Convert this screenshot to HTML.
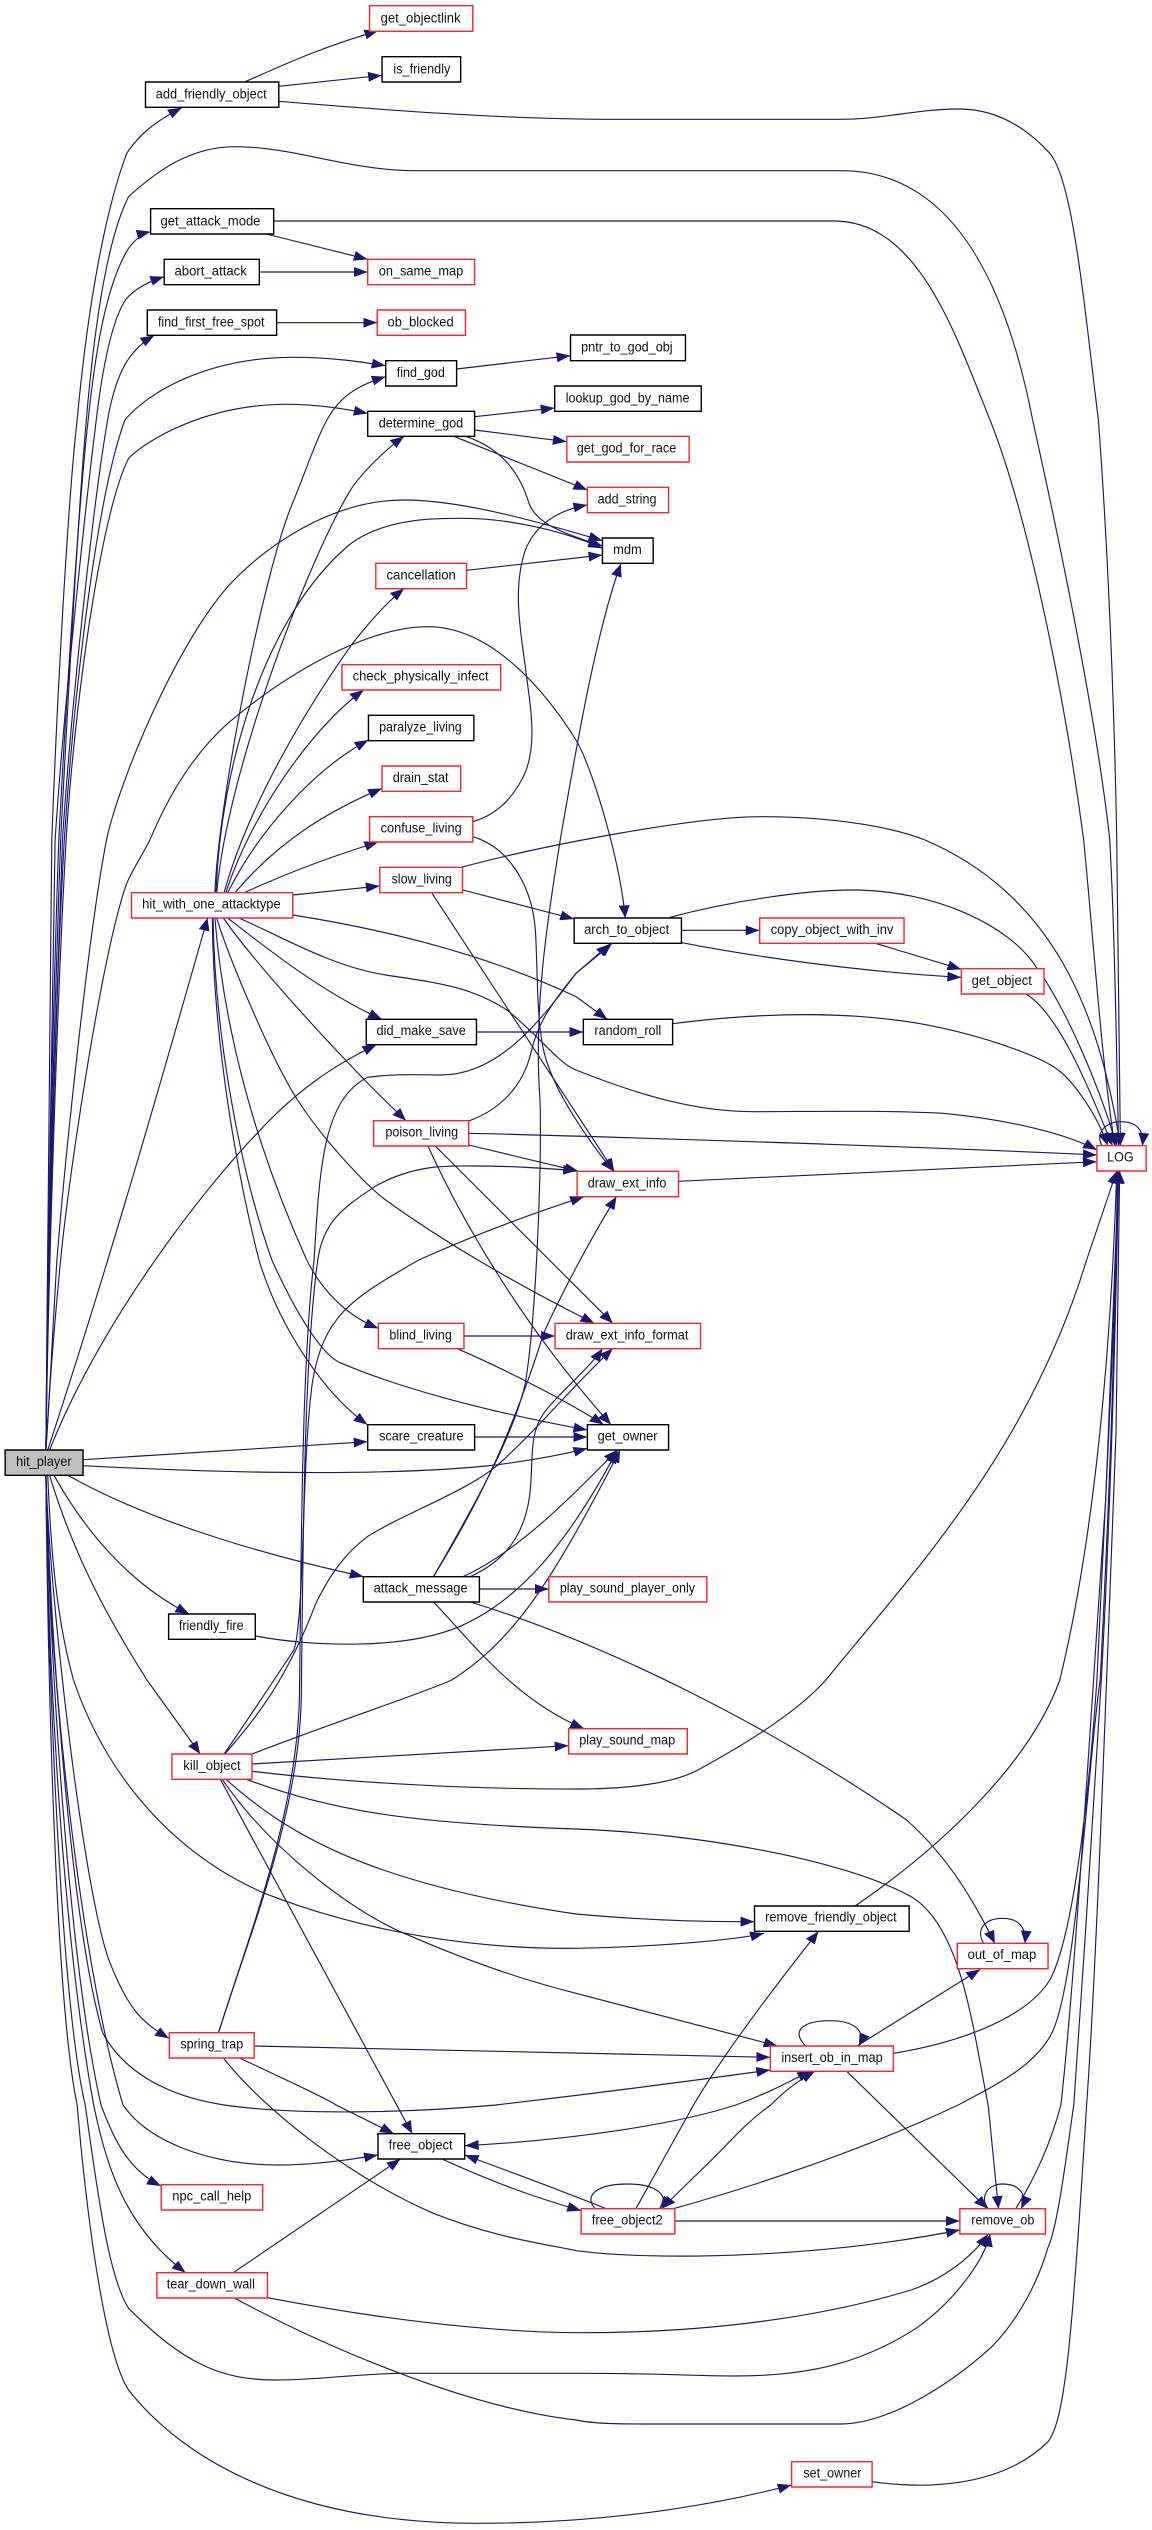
<!DOCTYPE html>
<html><head><meta charset="utf-8"><style>
html,body{margin:0;padding:0;background:#fff}
svg{display:block}
.e path{fill:none;stroke:#191970;stroke-width:1.15;vector-effect:non-scaling-stroke;marker-end:url(#a)}
.e path.both{marker-start:url(#b)}
.n{fill:#fff;stroke:#000;stroke-width:1.4;vector-effect:non-scaling-stroke}
.r{fill:#fff;stroke:#f22;stroke-width:1.4;vector-effect:non-scaling-stroke}
.g{fill:#bfbfbf;stroke:#000;stroke-width:1.4;vector-effect:non-scaling-stroke}
text{font-family:"Liberation Sans",sans-serif;font-size:41px;fill:#111}
</style></head><body>
<svg xmlns="http://www.w3.org/2000/svg" width="1152" height="2530" viewBox="0 0 3136 7590" preserveAspectRatio="none">
<defs><marker id="a" markerUnits="userSpaceOnUse" markerWidth="42" markerHeight="34" refX="38" refY="16" orient="auto"><path d="M0 1L38 16L0 31z" fill="#191970"/></marker>
<marker id="b" markerUnits="userSpaceOnUse" markerWidth="42" markerHeight="34" refX="38" refY="16" orient="auto-start-reverse"><path d="M0 1L38 16L0 31z" fill="#191970"/></marker></defs>
<g class="e">
<path d="M125,4350C130,3700 135,3000 141,2520C155,2100 185,1500 210,1260C240,900 290,620 345,460C380,400 430,360 495,323"/>
<path d="M125,4350C130,3700 150,3000 165,2520C185,2100 215,1500 235,1260C255,1000 290,720 350,590C430,510 520,440 640,440C800,440 950,512 1130,512L2290,512C2570,512 2730,800 2811,1260C2900,1700 2990,2200 3021,2520C3035,2800 3040,3200 3045,3437"/>
<path d="M759,304C1100,335 1400,358 1668,358L2288,358C2400,358 2500,327 2610,327C2720,327 2800,390 2858,460C2920,540 2950,900 2990,1260C3020,1700 3035,2200 3040,2520L3050,3437"/>
<path d="M745,663L2270,663C2500,663 2600,1000 2695,1260C2800,1550 2900,2100 2950,2520C2975,2800 3000,3200 3035,3437"/>
<path d="M725,702L1001,778"/><path d="M706,816L1001,816"/><path d="M753,968L1027,968"/>
<path d="M666,246C780,190 880,140 1030,92"/><path d="M759,259L1040,226"/>
<path d="M125,4350C130,3700 145,3000 160,2520C180,2100 215,1500 240,1260C260,1050 290,850 350,745C370,715 390,700 410,695"/>
<path d="M125,4350C130,3700 140,3000 150,2520C175,2100 235,1500 262,1260C285,1050 315,940 345,895C365,870 395,848 447,830"/>
<path d="M125,4350C130,3700 155,3000 170,2520C195,2100 255,1500 293,1260C305,1180 325,1120 345,1085C365,1050 390,1025 420,1006"/>
<path d="M125,4350C130,3900 150,3000 175,2520C200,2100 260,1500 340,1260C400,1180 560,1072 800,1072C900,1072 980,1085 1050,1097"/>
<path d="M125,4350C130,3900 155,3000 180,2520C200,2150 270,1550 350,1375C400,1320 560,1213 780,1213C860,1213 930,1225 1001,1240"/>
<path d="M1243,1107L1553,1067"/><path d="M1292,1250L1510,1224"/><path d="M1292,1290L1543,1325"/><path d="M1238,1310L1599,1470"/>
<path d="M1270,1310C1350,1340 1410,1400 1440,1510C1460,1570 1530,1600 1640,1638"/>
<path d="M1270,1711L1640,1665"/>
<path d="M585,2678C595,2400 720,1700 800,1500C830,1420 860,1320 890,1260C920,1200 960,1160 1050,1130"/>
<path d="M590,2678C620,2300 850,1650 960,1460C1000,1400 1060,1340 1100,1309"/>
<path d="M588,2678C600,2300 720,1850 950,1635C1050,1550 1200,1555 1260,1555C1400,1555 1550,1600 1640,1645"/>
<path d="M610,2678C680,2400 850,2100 960,1930C1010,1860 1060,1800 1100,1766"/>
<path d="M615,2678C680,2450 850,2180 990,2070"/>
<path d="M620,2678C700,2500 850,2310 1003,2220"/>
<path d="M640,2678C760,2520 900,2430 1040,2365"/>
<path d="M665,2678C780,2620 900,2570 1030,2526"/>
<path d="M797,2685L1034,2658"/>
<path d="M1287,2465C1350,2445 1390,2400 1420,2340C1470,2240 1440,2100 1430,2000C1410,1850 1400,1750 1430,1650C1460,1570 1520,1530 1599,1515"/>
<path d="M797,2745C1000,2780 1300,2850 1568,2990L1653,3058"/>
<path d="M650,2754C750,2800 900,2900 1050,2925C1200,2950 1280,2960 1380,3030C1470,3110 1520,3190 1568,3210C1750,3290 1900,3335 2050,3335C2200,3335 2400,3330 2568,3340C2750,3360 2900,3400 2986,3450"/>
<path d="M620,2754C720,2840 880,2980 1040,3058"/>
<path d="M608,2754C700,2900 950,3200 1105,3362"/>
<path d="M590,2755C625,2880 740,3180 810,3300C880,3420 1000,3560 1050,3600C1200,3720 1400,3850 1618,3970"/>
<path d="M578,2754C580,3100 640,3500 705,3780C760,3980 880,4180 1000,4274"/>
<path d="M580,2754C585,3100 650,3500 740,3780C810,3950 880,4070 930,4090C1100,4170 1350,4240 1599,4290"/>
<path d="M585,2754C610,3100 700,3450 835,3780C880,3880 950,3950 1030,3985"/>
<path d="M1278,3362C1370,3325 1425,3250 1445,3160C1465,3060 1510,3000 1568,2920L1665,2832"/>
<path d="M595,6098C680,5800 805,5450 815,5100C820,4700 820,4100 855,3780C870,3500 880,3300 1000,3232C1080,3220 1150,3225 1200,3225C1340,3225 1450,3100 1568,2920L1660,2832"/>
<path d="M595,6098C680,5800 812,5450 820,5100C825,4700 825,4100 865,3780C880,3660 940,3620 1020,3560C1130,3490 1230,3498 1290,3498C1400,3498 1480,3505 1571,3512"/>
<path d="M1276,3400C1500,3405 2400,3435 2986,3465"/>
<path d="M1276,3435L1575,3514"/>
<path d="M1185,3438L1668,3970"/>
<path d="M1165,3438C1240,3620 1400,3950 1663,4274"/>
<path d="M1260,2670L1563,2757"/>
<path d="M1255,2602C1500,2530 1900,2450 2068,2450C2300,2450 2450,2490 2518,2520C2900,2700 3000,3100 3050,3437"/>
<path d="M1175,2678L1672,3514"/>
<path d="M1287,2510C1380,2540 1450,2650 1458,2800C1465,2950 1460,3100 1490,3190C1520,3290 1600,3420 1670,3514"/>
<path d="M1823,2752C2000,2700 2200,2670 2318,2670C2550,2670 2750,2780 2820,2900C2900,3020 2990,3250 3040,3437"/>
<path d="M1855,2791L2068,2791"/>
<path d="M1856,2828C2100,2880 2400,2920 2617,2932"/>
<path d="M2383,2830L2617,2908"/>
<path d="M2793,2982C2880,3040 2960,3250 3028,3437"/>
<path d="M1831,3071C2050,3040 2280,3030 2500,3070C2700,3110 2850,3180 2880,3210C2920,3240 2990,3350 3015,3437"/>
<path d="M1297,3096L1588,3096"/>
<path d="M1847,3544L2986,3485"/>
<path d="M3000,3437C2980,3400 3010,3365 3050,3365C3090,3365 3115,3385 3110,3437"/>
<path d="M1263,4008L1511,4008"/>
<path d="M1245,4046C1400,4120 1568,4220 1643,4274"/>
<path d="M1292,4311L1599,4311"/>
<path d="M226,4379L1001,4325"/>
<path d="M226,4397C700,4425 1100,4425 1350,4395C1450,4380 1530,4365 1599,4345"/>
<path d="M185,4426C400,4560 700,4660 990,4730"/>
<path d="M147,4426C230,4590 350,4750 515,4842"/>
<path d="M135,4426C210,4700 320,4900 400,5040L545,5262"/>
<path d="M130,4350C300,3780 450,3200 565,2754"/>
<path d="M135,4350C280,3950 560,3560 700,3400C800,3280 900,3200 1025,3134"/>
<path d="M1305,4767L1494,4767"/>
<path d="M1180,4730C1300,4500 1400,4300 1430,4150C1460,3950 1475,3500 1470,3300C1450,3000 1500,2700 1525,2520C1560,2300 1620,1900 1690,1692"/>
<path d="M1180,4730C1280,4550 1380,4350 1480,4000C1520,3900 1600,3730 1678,3590"/>
<path d="M1280,4730C1380,4680 1425,4600 1440,4500C1455,4400 1435,4310 1480,4240C1520,4180 1600,4110 1640,4046"/>
<path d="M1260,4730C1400,4660 1540,4510 1680,4350"/>
<path d="M1180,4806C1280,4920 1400,5100 1590,5186"/>
<path d="M1280,4806C1650,4930 2100,5180 2468,5460C2580,5570 2650,5700 2708,5830"/>
<path d="M610,5262C680,5150 770,5000 800,4950C830,4850 820,4400 850,4150C880,3950 950,3900 1140,3780C1300,3700 1450,3640 1590,3590"/>
<path d="M612,5262C700,5150 780,5040 860,4810C900,4720 940,4660 1000,4610C1100,4540 1280,4470 1360,4390C1470,4280 1570,4145 1668,4046"/>
<path d="M686,5292L1548,5237"/>
<path d="M686,5262C900,5170 1150,5080 1230,5040C1400,4920 1500,4750 1688,4350"/>
<path d="M695,4908C850,4940 1100,4950 1250,4880C1420,4800 1550,4620 1680,4352"/>
<path d="M688,5314C1000,5355 1350,5368 1568,5367C1750,5367 1850,5340 1900,5310C2100,5190 2200,5100 2248,5040C2500,4700 2800,4350 2958,3780L3040,3513"/>
<path d="M670,5338C900,5430 1100,5470 1568,5487C1900,5500 2300,5580 2480,5690C2620,5780 2650,6100 2690,6315L2718,6626"/>
<path d="M615,5338C780,5500 1000,5650 1568,5742C1800,5765 1950,5765 2054,5765"/>
<path d="M130,4426C140,4700 160,4880 200,5040C280,5300 450,5550 720,5680C1000,5800 1300,5848 1568,5845C1800,5840 2000,5820 2080,5800"/>
<path d="M605,5338C730,5540 950,5730 1100,5800C1350,5920 1500,5960 1568,5980L2117,6138"/>
<path d="M600,5338L1122,6401"/>
<path d="M692,6138L2097,6172"/>
<path d="M125,4426C140,5000 200,5800 280,6100C340,6220 460,6290 610,6315C800,6345 1100,6340 1350,6315C1700,6270 1900,6240 2097,6210"/>
<path d="M652,6174C760,6230 880,6290 915,6315L1072,6401"/>
<path d="M608,6174C720,6330 950,6530 1180,6640C1350,6715 1500,6735 1568,6752C1800,6785 2250,6770 2613,6690"/>
<path d="M125,4426C130,5000 220,5900 335,6315C400,6420 560,6495 760,6495C850,6495 950,6480 1029,6465"/>
<path d="M125,4426C135,5000 190,5900 275,6315C310,6420 350,6510 438,6558"/>
<path d="M125,4426C130,5000 170,5800 255,6315C290,6500 340,6680 505,6818"/>
<path d="M125,4426C135,4800 230,5700 300,5890C350,6030 390,6070 460,6115"/>
<path d="M125,4426C130,5000 165,6000 232,6315C270,6620 300,6840 350,6925C500,7090 600,7140 750,7140C870,7140 980,7120 1100,7120L1568,7120C1800,7120 1900,7128 2000,7128C2200,7128 2350,7090 2500,6980C2600,6900 2680,6780 2695,6702"/>
<path d="M125,4426C130,5000 150,6000 210,6315C240,6700 290,7070 350,7170C500,7380 800,7570 1300,7570C1700,7570 2000,7500 2155,7455"/>
<path d="M635,6818L1090,6477"/>
<path d="M728,6893C1000,6950 1300,6995 1568,6998C2000,7000 2300,6930 2480,6870C2560,6840 2640,6780 2690,6702"/>
<path d="M640,6895C850,7020 1250,7220 1568,7260C1620,7272 1700,7272 1750,7272L2288,7272C2400,7272 2560,7180 2700,7040C2780,6950 2830,6830 2852,6745C2880,6680 2905,6450 2923,6315C2950,5900 2990,5200 2998,5040C3020,4600 3035,4100 3045,3513"/>
<path d="M2374,7445C2500,7465 2720,7470 2853,7325C2900,7260 2920,7000 2958,6315C2985,5900 3010,5100 3038,4300L3048,3513"/>
<path d="M2432,6160C2600,6130 2790,6060 2858,5940C2930,5790 2970,5300 2986,5040C3000,4700 3035,4000 3045,3513"/>
<path d="M2328,5718C2550,5550 2800,5300 2885,5040C2960,4700 3020,4200 3040,3513"/>
<path d="M2678,5830C2655,5790 2680,5755 2730,5755C2770,5755 2795,5780 2790,5830"/>
<path d="M2333,6138L2668,5908"/>
<path d="M2193,6138C2150,6090 2190,6062 2260,6062C2320,6062 2360,6090 2338,6138"/>
<path d="M2305,6214L2688,6626"/>
<path class="both" d="M2208,6212C2140,6250 2080,6285 2003,6315C1850,6370 1568,6420 1265,6437"/>
<path class="both" d="M2218,6214C2160,6250 2130,6280 2098,6315C2040,6360 2000,6410 1968,6445C1930,6490 1860,6560 1802,6626"/>
<path d="M1833,6626C2050,6560 2350,6450 2608,6315C2720,6250 2810,6200 2858,6110C2930,5980 2960,5300 2995,5040C3015,4600 3035,4100 3042,3513"/>
<path d="M1731,6626L1888,6315C1960,6180 2080,6000 2228,5794"/>
<path d="M1837,6663L2613,6663"/>
<path d="M1620,6626C1590,6590 1620,6552 1708,6552C1790,6552 1825,6590 1795,6626"/>
<path d="M1205,6478C1350,6550 1450,6590 1582,6632"/>
<path d="M1650,6626C1500,6560 1400,6520 1265,6465"/>
<path d="M2690,6626C2665,6590 2690,6552 2730,6552C2770,6552 2800,6580 2780,6626"/>
<path d="M2765,6626C2820,6530 2860,6430 2888,6315C2930,5900 2975,5040 3010,4500L3045,3513"/>
<path d="M125,4350C135,4200 145,3950 155,3780C175,3500 240,2800 290,2520C320,2360 470,1950 620,1760C720,1640 900,1500 1100,1500C1250,1500 1450,1560 1640,1622"/>
<path d="M125,4350C135,4150 150,3950 165,3780C190,3500 280,2850 345,2650C365,2600 385,2570 408,2520C480,2330 560,2230 620,2170C780,2020 1000,1880 1165,1880C1350,1880 1500,2100 1568,2220C1620,2320 1690,2600 1702,2754"/>
</g>
<rect class="r" x="1006" y="17" width="281" height="77"/><text x="1036" y="67" textLength="218" lengthAdjust="spacingAndGlyphs">get_objectlink</text>
<rect class="n" x="1040" y="170" width="214" height="76"/><text x="1071" y="220" textLength="155" lengthAdjust="spacingAndGlyphs">is_friendly</text>
<rect class="n" x="396" y="246" width="363" height="76"/><text x="424" y="296" textLength="302" lengthAdjust="spacingAndGlyphs">add_friendly_object</text>
<rect class="n" x="410" y="626" width="335" height="76"/><text x="437" y="676" textLength="272" lengthAdjust="spacingAndGlyphs">get_attack_mode</text>
<rect class="n" x="447" y="778" width="259" height="76"/><text x="475" y="826" textLength="197" lengthAdjust="spacingAndGlyphs">abort_attack</text>
<rect class="r" x="1001" y="778" width="291" height="76"/><text x="1031" y="826" textLength="230" lengthAdjust="spacingAndGlyphs">on_same_map</text>
<rect class="n" x="401" y="930" width="352" height="76"/><text x="430" y="979" textLength="290" lengthAdjust="spacingAndGlyphs">find_first_free_spot</text>
<rect class="r" x="1027" y="930" width="240" height="76"/><text x="1055" y="979" textLength="180" lengthAdjust="spacingAndGlyphs">ob_blocked</text>
<rect class="n" x="1050" y="1082" width="193" height="76"/><text x="1080" y="1131" textLength="131" lengthAdjust="spacingAndGlyphs">find_god</text>
<rect class="n" x="1553" y="1005" width="313" height="77"/><text x="1582" y="1054" textLength="249" lengthAdjust="spacingAndGlyphs">pntr_to_god_obj</text>
<rect class="n" x="1510" y="1158" width="399" height="76"/><text x="1540" y="1207" textLength="337" lengthAdjust="spacingAndGlyphs">lookup_god_by_name</text>
<rect class="n" x="1001" y="1234" width="291" height="75"/><text x="1031" y="1283" textLength="230" lengthAdjust="spacingAndGlyphs">determine_god</text>
<rect class="r" x="1543" y="1309" width="333" height="77"/><text x="1570" y="1358" textLength="271" lengthAdjust="spacingAndGlyphs">get_god_for_race</text>
<rect class="r" x="1599" y="1462" width="221" height="76"/><text x="1627" y="1510" textLength="160" lengthAdjust="spacingAndGlyphs">add_string</text>
<rect class="n" x="1640" y="1614" width="138" height="76"/><text x="1669" y="1662" textLength="78" lengthAdjust="spacingAndGlyphs">mdm</text>
<rect class="r" x="1023" y="1690" width="247" height="76"/><text x="1052" y="1738" textLength="189" lengthAdjust="spacingAndGlyphs">cancellation</text>
<rect class="r" x="931" y="1994" width="432" height="76"/><text x="960" y="2042" textLength="370" lengthAdjust="spacingAndGlyphs">check_physically_infect</text>
<rect class="n" x="1003" y="2146" width="287" height="76"/><text x="1032" y="2194" textLength="225" lengthAdjust="spacingAndGlyphs">paralyze_living</text>
<rect class="r" x="1040" y="2298" width="214" height="76"/><text x="1069" y="2346" textLength="152" lengthAdjust="spacingAndGlyphs">drain_stat</text>
<rect class="r" x="1006" y="2450" width="281" height="76"/><text x="1036" y="2498" textLength="221" lengthAdjust="spacingAndGlyphs">confuse_living</text>
<rect class="r" x="1034" y="2602" width="225" height="76"/><text x="1066" y="2650" textLength="164" lengthAdjust="spacingAndGlyphs">slow_living</text>
<rect class="r" x="358" y="2678" width="439" height="76"/><text x="387" y="2726" textLength="377" lengthAdjust="spacingAndGlyphs">hit_with_one_attacktype</text>
<rect class="n" x="1563" y="2754" width="292" height="76"/><text x="1590" y="2802" textLength="232" lengthAdjust="spacingAndGlyphs">arch_to_object</text>
<rect class="r" x="2068" y="2754" width="393" height="76"/><text x="2098" y="2802" textLength="334" lengthAdjust="spacingAndGlyphs">copy_object_with_inv</text>
<rect class="r" x="2617" y="2906" width="225" height="76"/><text x="2645" y="2955" textLength="164" lengthAdjust="spacingAndGlyphs">get_object</text>
<rect class="n" x="997" y="3058" width="300" height="76"/><text x="1025" y="3105" textLength="243" lengthAdjust="spacingAndGlyphs">did_make_save</text>
<rect class="n" x="1588" y="3058" width="243" height="76"/><text x="1618" y="3105" textLength="182" lengthAdjust="spacingAndGlyphs">random_roll</text>
<rect class="r" x="1017" y="3362" width="259" height="76"/><text x="1049" y="3410" textLength="198" lengthAdjust="spacingAndGlyphs">poison_living</text>
<rect class="r" x="2986" y="3437" width="134" height="76"/><text x="3014" y="3485" textLength="72" lengthAdjust="spacingAndGlyphs">LOG</text>
<rect class="r" x="1571" y="3514" width="276" height="76"/><text x="1600" y="3562" textLength="214" lengthAdjust="spacingAndGlyphs">draw_ext_info</text>
<rect class="r" x="1030" y="3970" width="233" height="76"/><text x="1060" y="4018" textLength="170" lengthAdjust="spacingAndGlyphs">blind_living</text>
<rect class="r" x="1511" y="3970" width="396" height="76"/><text x="1540" y="4018" textLength="334" lengthAdjust="spacingAndGlyphs">draw_ext_info_format</text>
<rect class="n" x="1001" y="4274" width="291" height="76"/><text x="1032" y="4322" textLength="230" lengthAdjust="spacingAndGlyphs">scare_creature</text>
<rect class="n" x="1599" y="4274" width="221" height="76"/><text x="1627" y="4322" textLength="163" lengthAdjust="spacingAndGlyphs">get_owner</text>
<rect class="g" x="14" y="4350" width="212" height="76"/><text x="44" y="4398" textLength="151" lengthAdjust="spacingAndGlyphs">hit_player</text>
<rect class="n" x="989" y="4730" width="316" height="76"/><text x="1017" y="4778" textLength="256" lengthAdjust="spacingAndGlyphs">attack_message</text>
<rect class="r" x="1494" y="4730" width="430" height="76"/><text x="1524" y="4778" textLength="368" lengthAdjust="spacingAndGlyphs">play_sound_player_only</text>
<rect class="n" x="459" y="4842" width="236" height="76"/><text x="487" y="4890" textLength="176" lengthAdjust="spacingAndGlyphs">friendly_fire</text>
<rect class="r" x="1548" y="5186" width="323" height="76"/><text x="1577" y="5234" textLength="261" lengthAdjust="spacingAndGlyphs">play_sound_map</text>
<rect class="r" x="468" y="5262" width="218" height="76"/><text x="499" y="5310" textLength="156" lengthAdjust="spacingAndGlyphs">kill_object</text>
<rect class="n" x="2054" y="5718" width="421" height="76"/><text x="2083" y="5765" textLength="358" lengthAdjust="spacingAndGlyphs">remove_friendly_object</text>
<rect class="r" x="2606" y="5830" width="247" height="76"/><text x="2634" y="5877" textLength="187" lengthAdjust="spacingAndGlyphs">out_of_map</text>
<rect class="r" x="2097" y="6138" width="335" height="76"/><text x="2127" y="6186" textLength="276" lengthAdjust="spacingAndGlyphs">insert_ob_in_map</text>
<rect class="r" x="461" y="6098" width="231" height="76"/><text x="491" y="6146" textLength="171" lengthAdjust="spacingAndGlyphs">spring_trap</text>
<rect class="n" x="1029" y="6401" width="236" height="76"/><text x="1058" y="6449" textLength="174" lengthAdjust="spacingAndGlyphs">free_object</text>
<rect class="r" x="1582" y="6626" width="255" height="76"/><text x="1611" y="6674" textLength="193" lengthAdjust="spacingAndGlyphs">free_object2</text>
<rect class="r" x="2613" y="6626" width="233" height="76"/><text x="2644" y="6674" textLength="172" lengthAdjust="spacingAndGlyphs">remove_ob</text>
<rect class="r" x="439" y="6554" width="276" height="76"/><text x="469" y="6602" textLength="215" lengthAdjust="spacingAndGlyphs">npc_call_help</text>
<rect class="r" x="427" y="6818" width="301" height="76"/><text x="454" y="6866" textLength="240" lengthAdjust="spacingAndGlyphs">tear_down_wall</text>
<rect class="r" x="2155" y="7385" width="219" height="76"/><text x="2187" y="7433" textLength="158" lengthAdjust="spacingAndGlyphs">set_owner</text>
</svg>
</body></html>
